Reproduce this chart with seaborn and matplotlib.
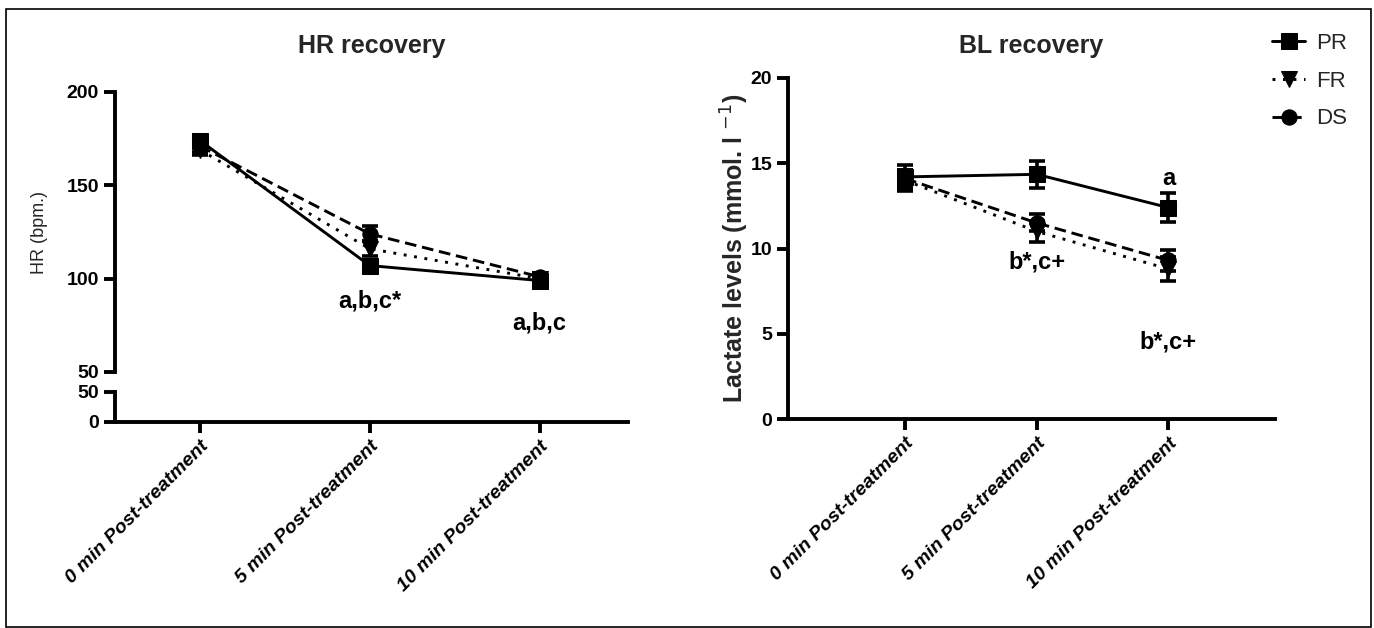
import matplotlib
matplotlib.use("Agg")
import matplotlib.pyplot as plt
import seaborn as sns
import pandas as pd
from matplotlib.patches import Rectangle

# ---------------- data ----------------
times = ["0 min Post-treatment", "5 min Post-treatment", "10 min Post-treatment"]
groups = ["PR", "FR", "DS"]

hr_pr = [174, 107, 99]
hr_fr = [169, 116, 100]
hr_ds = [171, 124, 101]
hr_pr_err = [3, 3, 3]
hr_fr_err = [3, 4, 2]
hr_ds_err = [3, 4, 2]

bl_pr = [14.2, 14.35, 12.4]
bl_fr = [14.0, 11.0, 8.8]
bl_ds = [14.1, 11.5, 9.3]
bl_pr_err = [0.7, 0.8, 0.85]
bl_fr_err = [0.6, 0.6, 0.7]
bl_ds_err = [0.5, 0.5, 0.6]

hr_notes = [(1, 88, "a,b,c*"), (2, 76, "a,b,c")]
bl_notes = [(2, 14.1, "a"), (1, 9.2, "b*,c+"), (2, 4.5, "b*,c+")]

# ---------------- style ----------------
sns.set_theme(style="white")
plt.rcParams["font.family"] = ["Liberation Sans", "DejaVu Sans"]
plt.rcParams["axes.linewidth"] = 2.8

W, H = 1374, 628
fig = plt.figure(figsize=(W / 100, H / 100), dpi=100)
fig.patch.set_facecolor("white")
fig.add_artist(Rectangle((6 / W, 1 / H), (1371 - 6) / W, (627 - 9) / H,
                         transform=fig.transFigure, fill=False,
                         edgecolor="black", linewidth=1.2))

def fx(px):
    return px / W

def fy(py):
    return 1 - py / H

markers = {"PR": "s", "FR": "v", "DS": "o"}
dashes = {"PR": "", "FR": (1, 2.6), "DS": (4, 2)}
palette = {g: "black" for g in groups}

def long_df(pr, fr, ds):
    rows = []
    for g, vals in zip(groups, [pr, fr, ds]):
        for i, v in enumerate(vals):
            rows.append({"pos": i, "time": times[i], "group": g, "val": v})
    return pd.DataFrame(rows)

def draw(ax, df, errs, legend=False):
    sns.lineplot(data=df, x="pos", y="val", hue="group", style="group",
                 hue_order=groups, style_order=groups, palette=palette,
                 markers=markers, dashes=dashes, markersize=11,
                 markeredgecolor="black", linewidth=2.1, errorbar=None,
                 ax=ax, legend=legend)
    for g, e in zip(groups, errs):
        sub = df[df.group == g]
        ax.errorbar(sub["pos"], sub["val"], yerr=e, fmt="none",
                    ecolor="black", elinewidth=2.6, capsize=6, capthick=2.6,
                    zorder=3)

tick_kw = dict(direction="out", length=8, width=2.8, colors="black",
               labelsize=14, bottom=True, left=True)

# ---------------- left panel (HR, broken axis) ----------------
ax_top = fig.add_axes([fx(115), fy(372), fx(628 - 115), (372 - 92) / H])
ax_low = fig.add_axes([fx(115), fy(422), fx(628 - 115), (422 - 392) / H])

hr_df = long_df(hr_pr, hr_fr, hr_ds)
draw(ax_top, hr_df, [hr_pr_err, hr_fr_err, hr_ds_err])

for ax in (ax_top, ax_low):
    ax.set_xlim(-0.5, 2.52)
    ax.set_facecolor("none")
    for s in ("top", "right"):
        ax.spines[s].set_visible(False)
    ax.spines["left"].set_color("black")
    ax.spines["bottom"].set_color("black")
    ax.tick_params(**tick_kw)

ax_top.spines["bottom"].set_visible(False)
ax_top.set_ylim(50, 200)
ax_top.set_yticks([50, 100, 150, 200])
ax_top.set_xticks([])
ax_top.tick_params(axis="x", bottom=False)
ax_top.set_xlabel("")
ax_top.set_ylabel("HR (bpm.)", fontsize=13)
ax_top.yaxis.set_label_coords(-0.13, 0.5)
ax_top.set_title("HR recovery", fontsize=18, fontweight="bold", pad=28)

ax_low.set_ylim(0, 50)
ax_low.set_yticks([0, 50])
ax_low.set_xticks(range(len(times)))
ax_low.set_xticklabels(times, rotation=45, ha="right",
                       rotation_mode="anchor", fontweight="bold",
                       fontstyle="italic", fontsize=14)
ax_low.set_xlabel("")
ax_low.set_ylabel("")

for ax in (ax_top, ax_low):
    for lab in ax.get_yticklabels():
        lab.set_fontweight("bold")

for x, y, t in hr_notes:
    ax_top.text(x, y, t, ha="center", va="center", fontsize=17,
                fontweight="bold", color="black")

# ---------------- right panel (BL) ----------------
ax_r = fig.add_axes([fx(788), fy(419), fx(1275 - 788), (419 - 78) / H])
bl_df = long_df(bl_pr, bl_fr, bl_ds)
draw(ax_r, bl_df, [bl_pr_err, bl_fr_err, bl_ds_err], legend=True)

ax_r.set_xlim(-0.89, 2.81)
ax_r.set_ylim(0, 20)
ax_r.set_yticks([0, 5, 10, 15, 20])
ax_r.set_facecolor("none")
for s in ("top", "right"):
    ax_r.spines[s].set_visible(False)
ax_r.spines["left"].set_color("black")
ax_r.spines["bottom"].set_color("black")
ax_r.tick_params(**tick_kw)
ax_r.set_xticks(range(len(times)))
ax_r.set_xticklabels(times, rotation=45, ha="right", rotation_mode="anchor",
                     fontweight="bold", fontstyle="italic", fontsize=14)
for lab in ax_r.get_yticklabels():
    lab.set_fontweight("bold")
ax_r.set_xlabel("")
ax_r.set_ylabel(r"Lactate levels (mmol. l $^{-1}$)", fontsize=18,
                fontweight="bold")
ax_r.yaxis.set_label_coords(-0.075, 0.5)
ax_r.set_title("BL recovery", fontsize=18, fontweight="bold", pad=18)

for x, y, t in bl_notes:
    ax_r.text(x, y, t, ha="center", va="center", fontsize=17,
              fontweight="bold", color="black")

handles, labels = ax_r.get_legend_handles_labels()
ax_r.get_legend().remove()
fig.legend(handles, labels, loc="upper left",
           bbox_to_anchor=(fx(1272), fy(33)), frameon=False, fontsize=16,
           handlelength=1.5, handletextpad=0.5, labelspacing=0.75,
           borderaxespad=0, borderpad=0)

fig.savefig("out.png", dpi=100, facecolor="white")
